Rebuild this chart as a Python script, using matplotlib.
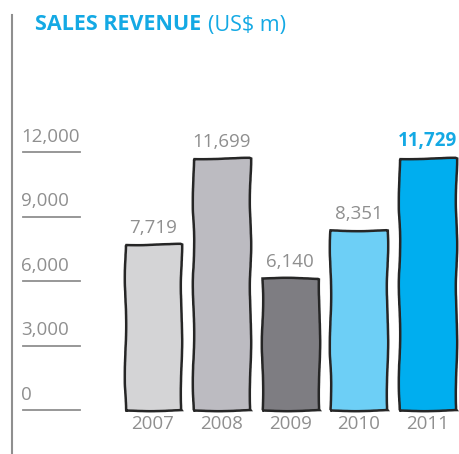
import matplotlib.pyplot as plt
from matplotlib import transforms

years = ['2007', '2008', '2009', '2010', '2011']
revenue = [7719, 11699, 6140, 8351, 11729]
bar_colors = ['#d4d4d6', '#bcbbc1', '#7e7d82', '#6dcff6', '#00aeef']
yticks = [0, 3000, 6000, 9000, 12000]

GREY = '#8f8f8f'
BLUE = '#14a9e4'
W, H = 460, 454
FS = 13.5

plt.rcParams['font.family'] = ['Open Sans', 'DejaVu Sans']

fig = plt.figure(figsize=(W / 100, H / 100), dpi=100)
ax = fig.add_axes([0, 0, 1, 1])
ax.set_axis_off()

# bar area: ~68.6 px per category, first bar centred at x=153
step = 68.6
ax.set_xlim(-153 / step, (W - 153) / step)
# y scale: 12,000 spans ~258 px, baseline 44 px above bottom
ppu = 258 / 12000
ax.set_ylim(-44 / ppu, (H - 44) / ppu)

x = range(len(years))
bars = ax.bar(x, revenue, width=0.83, color=bar_colors,
              edgecolor='#262626', linewidth=1.8, zorder=3)
for b in bars:
    b.set_sketch_params(scale=0.7, length=120, randomness=3)

for i, v in enumerate(revenue):
    last = i == len(revenue) - 1
    ax.text(i, v + 330, f'{v:,}', ha='center', va='bottom',
            fontsize=FS, color=BLUE if last else GREY,
            fontweight='bold' if last else 'normal')
    ax.text(i, -250, years[i], ha='center', va='top', fontsize=FS, color=GREY)

# gridline stubs on the left with labels sitting on top
blend = transforms.blended_transform_factory(fig.transFigure, ax.transData)
for t in yticks:
    ax.plot([23 / W, 80 / W], [t, t], color=GREY, lw=1.3, transform=blend,
            clip_on=False)
    ax.text(21 / W, t + 300, f'{t:,}', transform=blend, ha='left', va='bottom',
            fontsize=FS, color=GREY)

# vertical rule down the left edge
fig.add_artist(plt.Line2D([12 / W, 12 / W], [0, 1 - 15 / H], color=GREY, lw=1.5))

head = fig.text(35 / W, 1 - 25 / H, 'SALES REVENUE', color=BLUE, fontsize=15.5,
                fontweight='bold', va='center', ha='left')
fig.canvas.draw()
bb = head.get_window_extent()
fig.text((bb.x1 + 7) / W, 1 - 25 / H, '(US$ m)', color=BLUE, fontsize=15.5,
         va='center', ha='left')

fig.savefig('out.png', dpi=100)
